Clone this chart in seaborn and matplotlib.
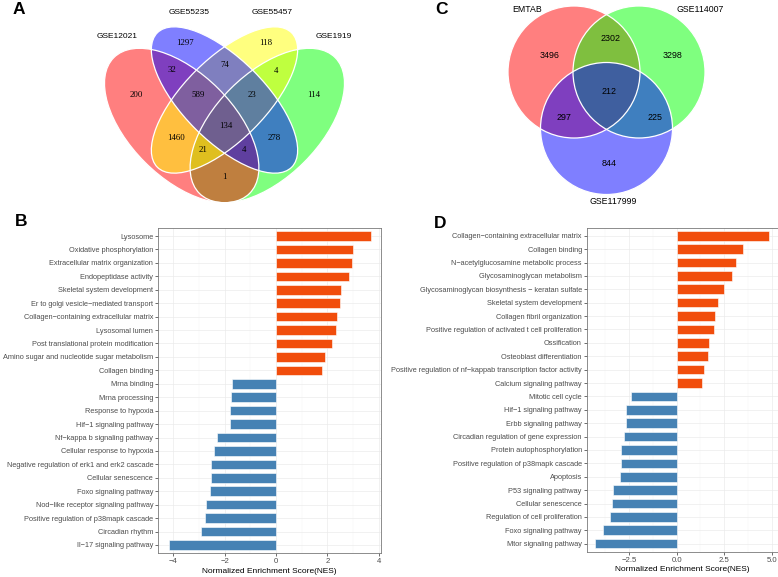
import numpy as np
import pandas as pd
import seaborn as sns
import matplotlib.pyplot as plt
from matplotlib.patches import Ellipse, Circle

# --- Venn A: four datasets (region key = membership of the 4 sets) ---
venn4_sets = ["GSE12021", "GSE55235", "GSE55457", "GSE1919"]
venn4_regions = ["1000", "0100", "0010", "0001", "1100", "0110", "0011", "1110",
                 "0111", "1111", "1010", "0101", "1011", "1101", "1001"]
venn4_counts = [200, 1297, 118, 114, 32, 74, 4, 589, 23, 134, 1460, 278, 21, 4, 1]

# --- Venn C: three datasets ---
venn3_sets = ["EMTAB", "GSE114007", "GSE117999"]
venn3_regions = ["100", "010", "001", "110", "101", "011", "111"]
venn3_counts = [3496, 3298, 844, 2302, 297, 225, 212]

# --- GSEA B ---
b_terms = ["Lysosome", "Oxidative phosphorylation", "Extracellular matrix organization",
           "Endopeptidase activity", "Skeletal system development",
           "Er to golgi vesicle\u2212mediated transport",
           "Collagen\u2212containing extracellular matrix", "Lysosomal lumen",
           "Post translational protein modification",
           "Amino sugar and nucleotide sugar metabolism", "Collagen binding",
           "Mrna binding", "Mrna processing", "Response to hypoxia",
           "Hif\u22121 signaling pathway", "Nf\u2212kappa b signaling pathway",
           "Cellular response to hypoxia", "Negative regulation of erk1 and erk2 cascade",
           "Cellular senescence", "Foxo signaling pathway",
           "Nod\u2212like receptor signaling pathway",
           "Positive regulation of p38mapk cascade", "Circadian rhythm",
           "Il\u221217 signaling pathway"]
b_nes = [3.70, 3.00, 2.95, 2.86, 2.55, 2.49, 2.36, 2.35, 2.19, 1.91, 1.79,
         -1.71, -1.74, -1.80, -1.81, -2.29, -2.41, -2.53, -2.54, -2.57, -2.72,
         -2.75, -2.93, -4.18]

# --- GSEA D ---
d_terms = ["Collagen\u2212containing extracellular matrix", "Collagen binding",
           "N\u2212acetylglucosamine metabolic process", "Glycosaminoglycan metabolism",
           "Glycosaminoglycan biosynthesis \u2212 keratan sulfate",
           "Skeletal system development", "Collagen fibril organization",
           "Positive regulation of activated t cell proliferation", "Ossification",
           "Osteoblast differentiation",
           "Positive regulation of nf\u2212kappab transcription factor activity",
           "Calcium signaling pathway", "Mitotic cell cycle", "Hif\u22121 signaling pathway",
           "Erbb signaling pathway", "Circadian regulation of gene expression",
           "Protein autophosphorylation", "Positive regulation of p38mapk cascade",
           "Apoptosis", "P53 signaling pathway", "Cellular senescence",
           "Regulation of cell proliferation", "Foxo signaling pathway",
           "Mtor signaling pathway"]
d_nes = [4.83, 3.49, 3.14, 2.91, 2.49, 2.16, 2.02, 1.95, 1.69, 1.64, 1.43, 1.32,
         -2.41, -2.64, -2.65, -2.77, -2.90, -2.93, -2.95, -3.35, -3.40, -3.51,
         -3.84, -4.29]

UP, DOWN = "#F14D0C", "#4682B4"
SANS = ["Liberation Sans", "DejaVu Sans"]
SERIF = ["Liberation Serif", "DejaVu Serif"]

plt.rcParams["font.family"] = SANS

W, H = 778, 577
fig = plt.figure(figsize=(W / 100, H / 100), dpi=100)

# overlay axis in pixel units for the venn diagrams and panel letters
ov = fig.add_axes([0, 0, 1, 1])
ov.set_xlim(0, W)
ov.set_ylim(H, 0)
ov.axis("off")

# ---- Venn A (layout in pixels) ----
ax0 = 224.5
ell = {  # name: (cx, cy, width, height, angle, colour)
    "GSE1919": (2 * ax0 - 181.7, 125.5, 192, 104, -45, "#00FF00"),
    "GSE12021": (181.7, 125.5, 192, 104, 45, "#FF0000"),
    "GSE55457": (ax0, 100.0, 190, 82, -45, "#FFFF00"),
    "GSE55235": (ax0, 100.0, 190, 82, 45, "#0000FF"),
}
draw_order = ["GSE1919", "GSE12021", "GSE55457", "GSE55235"]
for name in draw_order:
    cx, cy, w, h, ang, col = ell[name]
    ov.add_patch(Ellipse((cx, cy), w, h, angle=ang, facecolor=col, alpha=0.5,
                         edgecolor="none"))
for name in draw_order:
    cx, cy, w, h, ang, col = ell[name]
    ov.add_patch(Ellipse((cx, cy), w, h, angle=ang, facecolor="none",
                         edgecolor="white", lw=0.9))

venn4_pos = {"1000": (136.7, 95), "0100": (185, 43.3), "0010": (266, 43.3),
             "0001": (313.3, 95), "1100": (171.7, 70), "0110": (225, 65),
             "0011": (275.7, 71), "1110": (197.7, 95), "0111": (252.3, 95),
             "1111": (226, 126), "1010": (176, 138.3), "0101": (274.3, 138.3),
             "1011": (203.3, 150), "1101": (244, 150), "1001": (224, 177.3)}
for reg, n in zip(venn4_regions, venn4_counts):
    x, y = venn4_pos[reg]
    ov.text(x, y, str(n), family=SERIF, fontsize=6.3, ha="center", va="center")
for name, (x, y) in zip(venn4_sets, [(116.7, 36), (189.3, 12.7), (271.7, 12.7), (333.3, 36)]):
    ov.text(x, y, name, fontsize=6.0, ha="center", va="center")

# ---- Venn C ----
circ = [((574, 72), "#FF0000"), ((639, 72), "#00FF00"), ((606.5, 128.5), "#0000FF")]
for (c, col) in circ:
    ov.add_patch(Circle(c, 66, facecolor=col, alpha=0.5, edgecolor="none"))
for (c, col) in circ:
    ov.add_patch(Circle(c, 66, facecolor="none", edgecolor="white", lw=0.9))
venn3_pos = {"100": (549.3, 55), "010": (672.7, 55), "001": (609.3, 163),
             "110": (610.7, 38.3), "101": (564, 118), "011": (654.7, 117.3),
             "111": (609.3, 91)}
for reg, n in zip(venn3_regions, venn3_counts):
    x, y = venn3_pos[reg]
    ov.text(x, y, str(n), fontsize=6.4, ha="center", va="center")
for name, (x, y) in zip(venn3_sets, [(526.7, 10), (700, 10), (613.3, 201.7)]):
    ov.text(x, y, name, fontsize=6.3, ha="center", va="center")

# ---- panel letters ----
for lab, (x, y) in zip("ABCD", [(19.3, 9), (20.7, 221.7), (442, 9), (439.7, 223)]):
    ov.text(x, y, lab, fontsize=12.5, fontweight="bold", ha="center", va="center")


def gsea_bar(rect, terms, nes, xlim, major, minor, labels):
    ax = fig.add_axes(rect)
    df = pd.DataFrame({"term": terms, "NES": nes})
    df["dir"] = np.where(df["NES"] > 0, "up", "down")
    sns.barplot(data=df, x="NES", y="term", hue="dir", orient="h", dodge=False,
                palette={"up": UP, "down": DOWN}, saturation=1, width=0.72,
                edgecolor="white", linewidth=0.4, legend=False, ax=ax)
    ax.set_xlim(*xlim)
    ax.set_ylim(len(terms) - 0.4, -0.6)
    ax.set_xticks(major)
    ax.set_xticklabels(labels)
    ax.set_xticks(minor, minor=True)
    ax.set_axisbelow(True)
    ax.grid(True, which="major", color="#EBEBEB", lw=0.5)
    ax.grid(True, which="minor", axis="x", color="#F3F3F3", lw=0.35)
    for s in ax.spines.values():
        s.set_color("#7A7A7A")
        s.set_linewidth(0.6)
    ax.tick_params(axis="both", which="major", length=2, width=0.5, color="#333333",
                   labelcolor="#4D4D4D", labelsize=5.35, pad=1.5)
    ax.tick_params(axis="x", which="minor", length=0)
    ax.tick_params(axis="x", labelsize=5.6)
    ax.set_ylabel("")
    ax.set_xlabel("Normalized Enrichment Score(NES)", fontsize=6.0, labelpad=2)
    return ax


axB = gsea_bar([158 / W, 1 - 553 / H, 222.7 / W, 325 / H], b_terms, b_nes, (-4.60, 4.08),
               [-4, -2, 0, 2, 4], [-3, -1, 1, 3], ["\u22124", "\u22122", "0", "2", "4"])
axD = gsea_bar([586.7 / W, 1 - 551.7 / H, 190.8 / W, 324 / H], d_terms, d_nes, (-4.71, 5.29),
               [-2.5, 0, 2.5, 5.0], [-3.75, -1.25, 1.25, 3.75],
               ["\u22122.5", "0.0", "2.5", "5.0"])

fig.savefig("out.png", dpi=100)
